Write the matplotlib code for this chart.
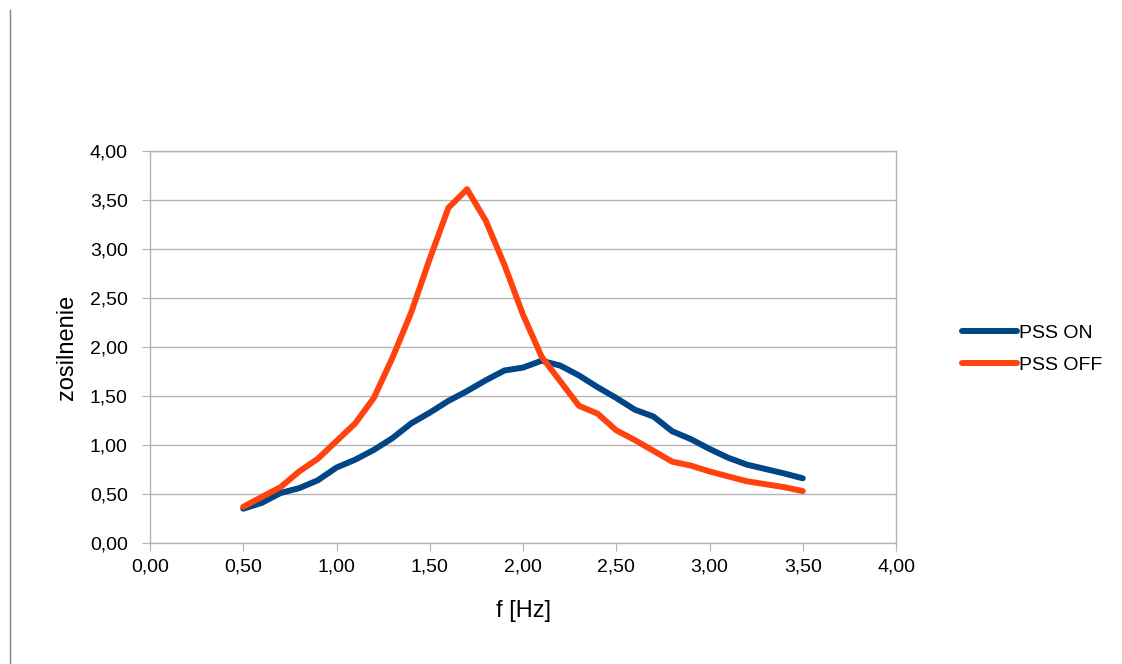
import matplotlib
matplotlib.use("Agg")
import matplotlib.pyplot as plt
from matplotlib.ticker import FuncFormatter, MultipleLocator
from matplotlib.lines import Line2D

plt.rcParams["font.family"] = ["Liberation Sans", "DejaVu Sans"]

# data
freq = [0.5, 0.6, 0.7, 0.8, 0.9, 1.0, 1.1, 1.2, 1.3, 1.4, 1.5, 1.6, 1.7, 1.8, 1.9, 2.0,
        2.1, 2.2, 2.3, 2.4, 2.5, 2.6, 2.7, 2.8, 2.9, 3.0, 3.1, 3.2, 3.3, 3.4, 3.5]
pss_on = [0.35, 0.41, 0.51, 0.56, 0.64, 0.77, 0.85, 0.95, 1.07, 1.22, 1.33, 1.45, 1.55, 1.66, 1.76, 1.79,
          1.86, 1.81, 1.71, 1.59, 1.48, 1.36, 1.29, 1.14, 1.06, 0.96, 0.87, 0.80, 0.755, 0.71, 0.66]
pss_off = [0.37, 0.47, 0.57, 0.73, 0.86, 1.04, 1.22, 1.48, 1.89, 2.35, 2.90, 3.42, 3.61, 3.29, 2.84, 2.33,
           1.90, 1.65, 1.40, 1.32, 1.15, 1.05, 0.94, 0.83, 0.79, 0.73, 0.68, 0.63, 0.60, 0.57, 0.53]

fig = plt.figure(figsize=(11.22, 6.64), dpi=100)
ax = fig.add_axes([150 / 1122, 121 / 664, 746 / 1122, 392 / 664])

ax.plot(freq, pss_on, color="#004586", lw=4.3, solid_capstyle="round", solid_joinstyle="round", label="PSS ON")
ax.plot(freq, pss_off, color="#ff420e", lw=4.3, solid_capstyle="round", solid_joinstyle="round", label="PSS OFF")

ax.set_xlim(0, 4)
ax.set_ylim(0, 4)
ax.xaxis.set_major_locator(MultipleLocator(0.5))
ax.yaxis.set_major_locator(MultipleLocator(0.5))
comma = FuncFormatter(lambda v, p: f"{v:.2f}".replace(".", ","))
ax.xaxis.set_major_formatter(comma)
ax.yaxis.set_major_formatter(comma)

ax.grid(axis="y", color="#b3b3b3", lw=1)
ax.set_axisbelow(True)
for s in ax.spines.values():
    s.set_color("#b3b3b3")
    s.set_linewidth(1)
ax.tick_params(direction="out", length=6, color="#b3b3b3", labelsize=14)
ax.tick_params(axis="x", pad=5.5)
ax.tick_params(axis="y", pad=10)

ax.set_xlabel("f [Hz]", fontsize=17)
ax.set_ylabel("zosilnenie", fontsize=17)
ax.xaxis.set_label_coords(0.5, -0.145)
ax.yaxis.set_label_coords(-0.097, 0.5)

leg = fig.legend(loc="center left", bbox_to_anchor=(962 / 1122, 1 - 349 / 664), frameon=False, fontsize=14,
                 handlelength=2.85, handletextpad=0.1, labelspacing=0.75, borderpad=0, borderaxespad=0)

# thin frame line at the left edge
fig.add_artist(Line2D([10 / 1122, 10 / 1122], [0, 654 / 664], color="#808080", lw=1))

fig.savefig("out.png", dpi=100)
